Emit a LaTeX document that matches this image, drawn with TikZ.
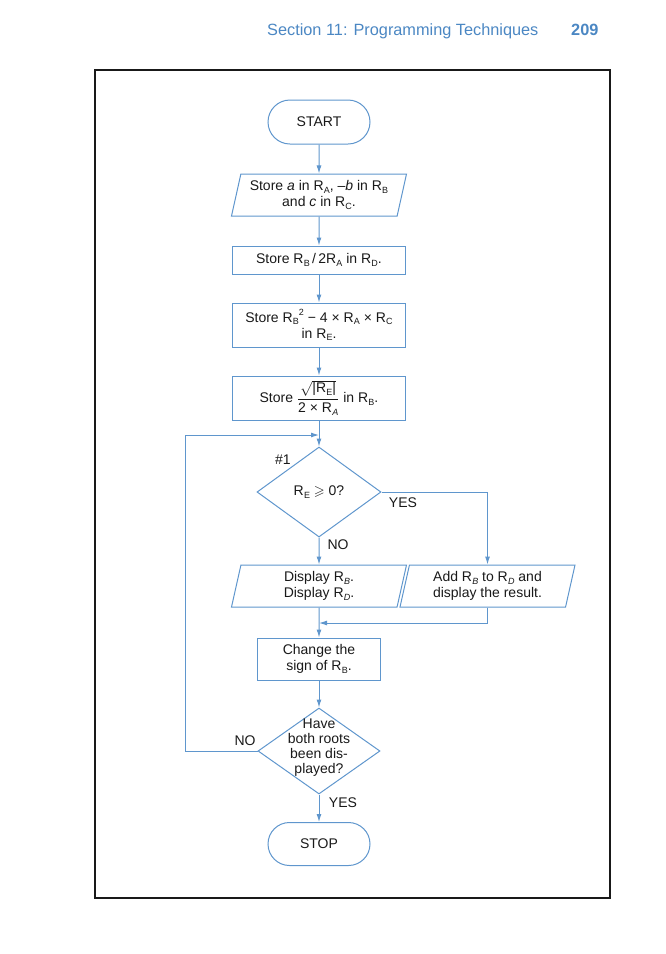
\documentclass[tikz,border=0pt]{standalone}
\usepackage{fontspec}
\usepackage{amsmath,amssymb}
\setmainfont{Liberation Sans}
\usetikzlibrary{shapes.geometric,shapes.misc,arrows.meta,calc}
\definecolor{fc}{RGB}{95,150,205}
\definecolor{hc}{RGB}{75,135,195}
\definecolor{tc}{RGB}{25,25,25}
\newcommand\Rsub[1]{R\kern0.2pt\raisebox{-0.35ex}{\fontsize{9}{9}\selectfont #1}}
\newcommand\Rit[1]{R\kern0.2pt\raisebox{-0.35ex}{\fontsize{9}{9}\selectfont\itshape #1}}
\begin{document}
\begin{tikzpicture}[x=1pt,y=-1pt,
  every node/.style={font=\fontsize{14}{16}\selectfont, text=tc, inner sep=0pt},
  box/.style={draw=fc, line width=1pt, rectangle, align=center},
  term/.style={draw=fc, line width=1pt, rounded rectangle, minimum width=102pt, minimum height=44pt},
  iobox/.style={draw=fc, line width=1pt, trapezium, trapezium left angle=72, trapezium right angle=108,
     trapezium stretches body, align=center, minimum width=175pt, minimum height=42pt},
  dec/.style={draw=fc, line width=1pt, diamond, align=center},
  line/.style={draw=fc, line width=1pt},
  arr/.style={draw=fc, line width=1pt, -{Latex[length=8pt,width=5pt]}},
  lab/.style={font=\fontsize{14}{16}\selectfont}]
\useasboundingbox (0,0) rectangle (666,954);
% header
\node[anchor=base west, text=hc, font=\fontsize{16.3}{19}\selectfont] (hd) at (267,35) {Section 11: Programming Techniques};
\node[anchor=base west, text=hc, font=\fontsize{16.3}{19}\selectfont\bfseries] (pg) at (571,35) {209};
% frame
\draw[line width=2pt, black!90] (95,70) rectangle (610,898);
% nodes
\node[term] (start) at (319,122) {START};
\node[iobox] (io1) at (319,195) {Store \textit{a} in \Rsub{A}, –\textit{b} in \Rsub{B}\\and \textit{c} in \Rsub{C}.};
\node[box, minimum width=173pt, minimum height=28pt] (b2) at (319,260) {Store \Rsub{B}\,/\,2\Rsub{A} in \Rsub{D}.};
\node[box, minimum width=173pt, minimum height=44pt] (b3) at (319,325) {Store \Rsub{B}\raisebox{0.9ex}{\fontsize{9}{9}\selectfont 2} − 4 × \Rsub{A} × \Rsub{C}\\in \Rsub{E}.};
\node[box, minimum width=173pt, minimum height=44pt] (b4) at (319,398) {Store $\dfrac{\sqrt{\text{|\Rsub{E}|}}}{\text{2 × \Rit{A}}}$ in \Rsub{B}.};
\node[dec, minimum width=124pt, minimum height=90pt] (d1) at (319,492) {\Rsub{E} $\geqslant$ 0?};
\node[iobox] (io2) at (319,586) {Display \Rit{B}.\\Display \Rit{D}.};
\node[iobox] (io3) at (487.5,586) {Add \Rit{B} to \Rit{D} and\\display the result.};
\node[box, minimum width=123pt, minimum height=42pt] (b5) at (319,659) {Change the\\sign of \Rsub{B}.};
\node[dec, minimum width=122pt, minimum height=86pt] (d2) at (319,751) {};
\node[align=center, font=\fontsize{14}{15}\selectfont] (d2t) at (319,748) {Have\\both roots\\been dis-\\played?};
\node[term, minimum height=43pt] (stop) at (319,844) {STOP};
% labels
\node[lab] (l1) at (283,460) {\#1};
\node[lab] (l2) at (403,503) {YES};
\node[lab] (l3) at (338,545) {NO};
\node[lab] (l4) at (245,741) {NO};
\node[lab] (l5) at (343,803) {YES};
% coordinates
\coordinate (j1) at (319,435);
\coordinate (lp) at (185,435);
\coordinate (j2) at (319,623);
% connectors
\draw[arr] (start) -- (io1);
\draw[arr] (io1) -- (b2);
\draw[arr] (b2) -- (b3);
\draw[arr] (b3) -- (b4);
\draw[line] (b4.south) -- (j1);
\draw[arr] (j1) -- (d1.north);
\draw[arr] (d1.east) -| (io3.north);
\draw[arr] (d1.south) -- (io2.north);
\draw[arr] (io3.south) |- (j2);
\draw[arr] (io2.south) -- (b5.north);
\draw[arr] (b5) -- (d2);
\draw[arr] (d2) -- (stop);
\draw[arr] (d2.west) -| (lp) -- (j1);
\end{tikzpicture}
\end{document}
